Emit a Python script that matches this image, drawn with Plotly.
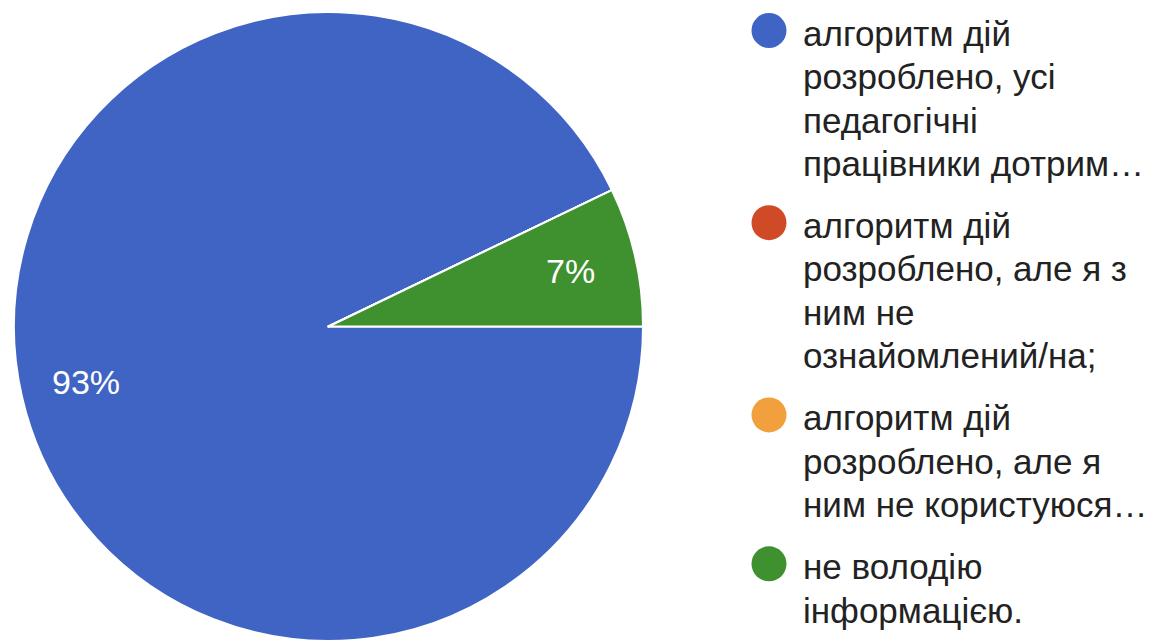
import math
import plotly.graph_objects as go

# ---- data ----
categories = [
    "алгоритм дій розроблено, усі педагогічні працівники дотрим…",
    "алгоритм дій розроблено, але я з ним не ознайомлений/на;",
    "алгоритм дій розроблено, але я ним не користуюся…",
    "не володію інформацією.",
]
values = [13, 0, 0, 1]
legend_lines = [
    ["алгоритм дій", "розроблено, усі", "педагогічні", "працівники дотрим…"],
    ["алгоритм дій", "розроблено, але я з", "ним не", "ознайомлений/на;"],
    ["алгоритм дій", "розроблено, але я", "ним не користуюся…"],
    ["не володію", "інформацією."],
]
colors = ["#4064C4", "#D04A27", "#F2A03D", "#3F902F"]

# ---- style ----
PAGE_OFF = 8            # default body margin of the page
W, H = 1158 - PAGE_OFF, 641 - PAGE_OFF
FONT = "Liberation Sans, Arial, sans-serif"
TEXT_COLOR = "#222222"
LEG_FS = 35
PIE_FS = 34
PITCH = 43.3
ITEM_GAP = 19
LEG_X_TEXT = 801
LEG_X_DOT = 769
DOT_R = 17.5
FIRST_Y = 33.5
PIE_LEFT, PIE_RIGHT, PIE_TOP, PIE_BOTTOM = 14, 643, 12, 641
LABEL_R = 0.79


def px(x):
    return (x - PAGE_OFF) / W


def py(y):
    return 1 - (y - PAGE_OFF) / H


fig = go.Figure()
fig.add_trace(go.Pie(
    labels=categories,
    values=values,
    sort=False,
    direction="clockwise",
    rotation=90,
    marker=dict(colors=colors, line=dict(color="white", width=2)),
    textinfo="none",
    domain=dict(x=[px(PIE_LEFT), px(PIE_RIGHT)], y=[max(0, py(PIE_BOTTOM)), py(PIE_TOP)]),
    showlegend=False,
    hoverinfo="label+percent",
))

shapes = []
annotations = []

# percentage labels, placed along each slice's mid angle
total = sum(values)
cx = (PIE_LEFT + PIE_RIGHT) / 2
cy_p = (PIE_TOP + PIE_BOTTOM) / 2
R = (PIE_RIGHT - PIE_LEFT) / 2
cum = 0
for v in values:
    if v > 0:
        mid = -(cum + v / 2) / total * 2 * math.pi
        tx = cx + LABEL_R * R * math.cos(mid)
        ty = cy_p - LABEL_R * R * math.sin(mid)
        annotations.append(dict(
            text=f"{round(v / total * 100)}%", xref="paper", yref="paper",
            x=px(tx), y=py(ty), xanchor="center", yanchor="middle",
            showarrow=False,
            font=dict(family=FONT, size=PIE_FS, color="white"),
        ))
    cum += v

# legend
y = FIRST_Y
for lines, col in zip(legend_lines, colors):
    cyd = y - 3
    shapes.append(dict(
        type="circle", xref="paper", yref="paper",
        x0=px(LEG_X_DOT - DOT_R), x1=px(LEG_X_DOT + DOT_R),
        y0=py(cyd + DOT_R), y1=py(cyd - DOT_R),
        fillcolor=col, line=dict(width=0),
    ))
    for i, line in enumerate(lines):
        ly = y + i * PITCH
        annotations.append(dict(
            text=line, xref="paper", yref="paper",
            x=px(LEG_X_TEXT), y=py(ly),
            xanchor="left", yanchor="middle", showarrow=False,
            font=dict(family=FONT, size=LEG_FS, color=TEXT_COLOR),
        ))
    y += len(lines) * PITCH + ITEM_GAP

fig.update_layout(
    width=W, height=H,
    margin=dict(l=0, r=0, t=0, b=0),
    paper_bgcolor="white",
    plot_bgcolor="white",
    shapes=shapes,
    annotations=annotations,
)

fig.write_html("out.html")
